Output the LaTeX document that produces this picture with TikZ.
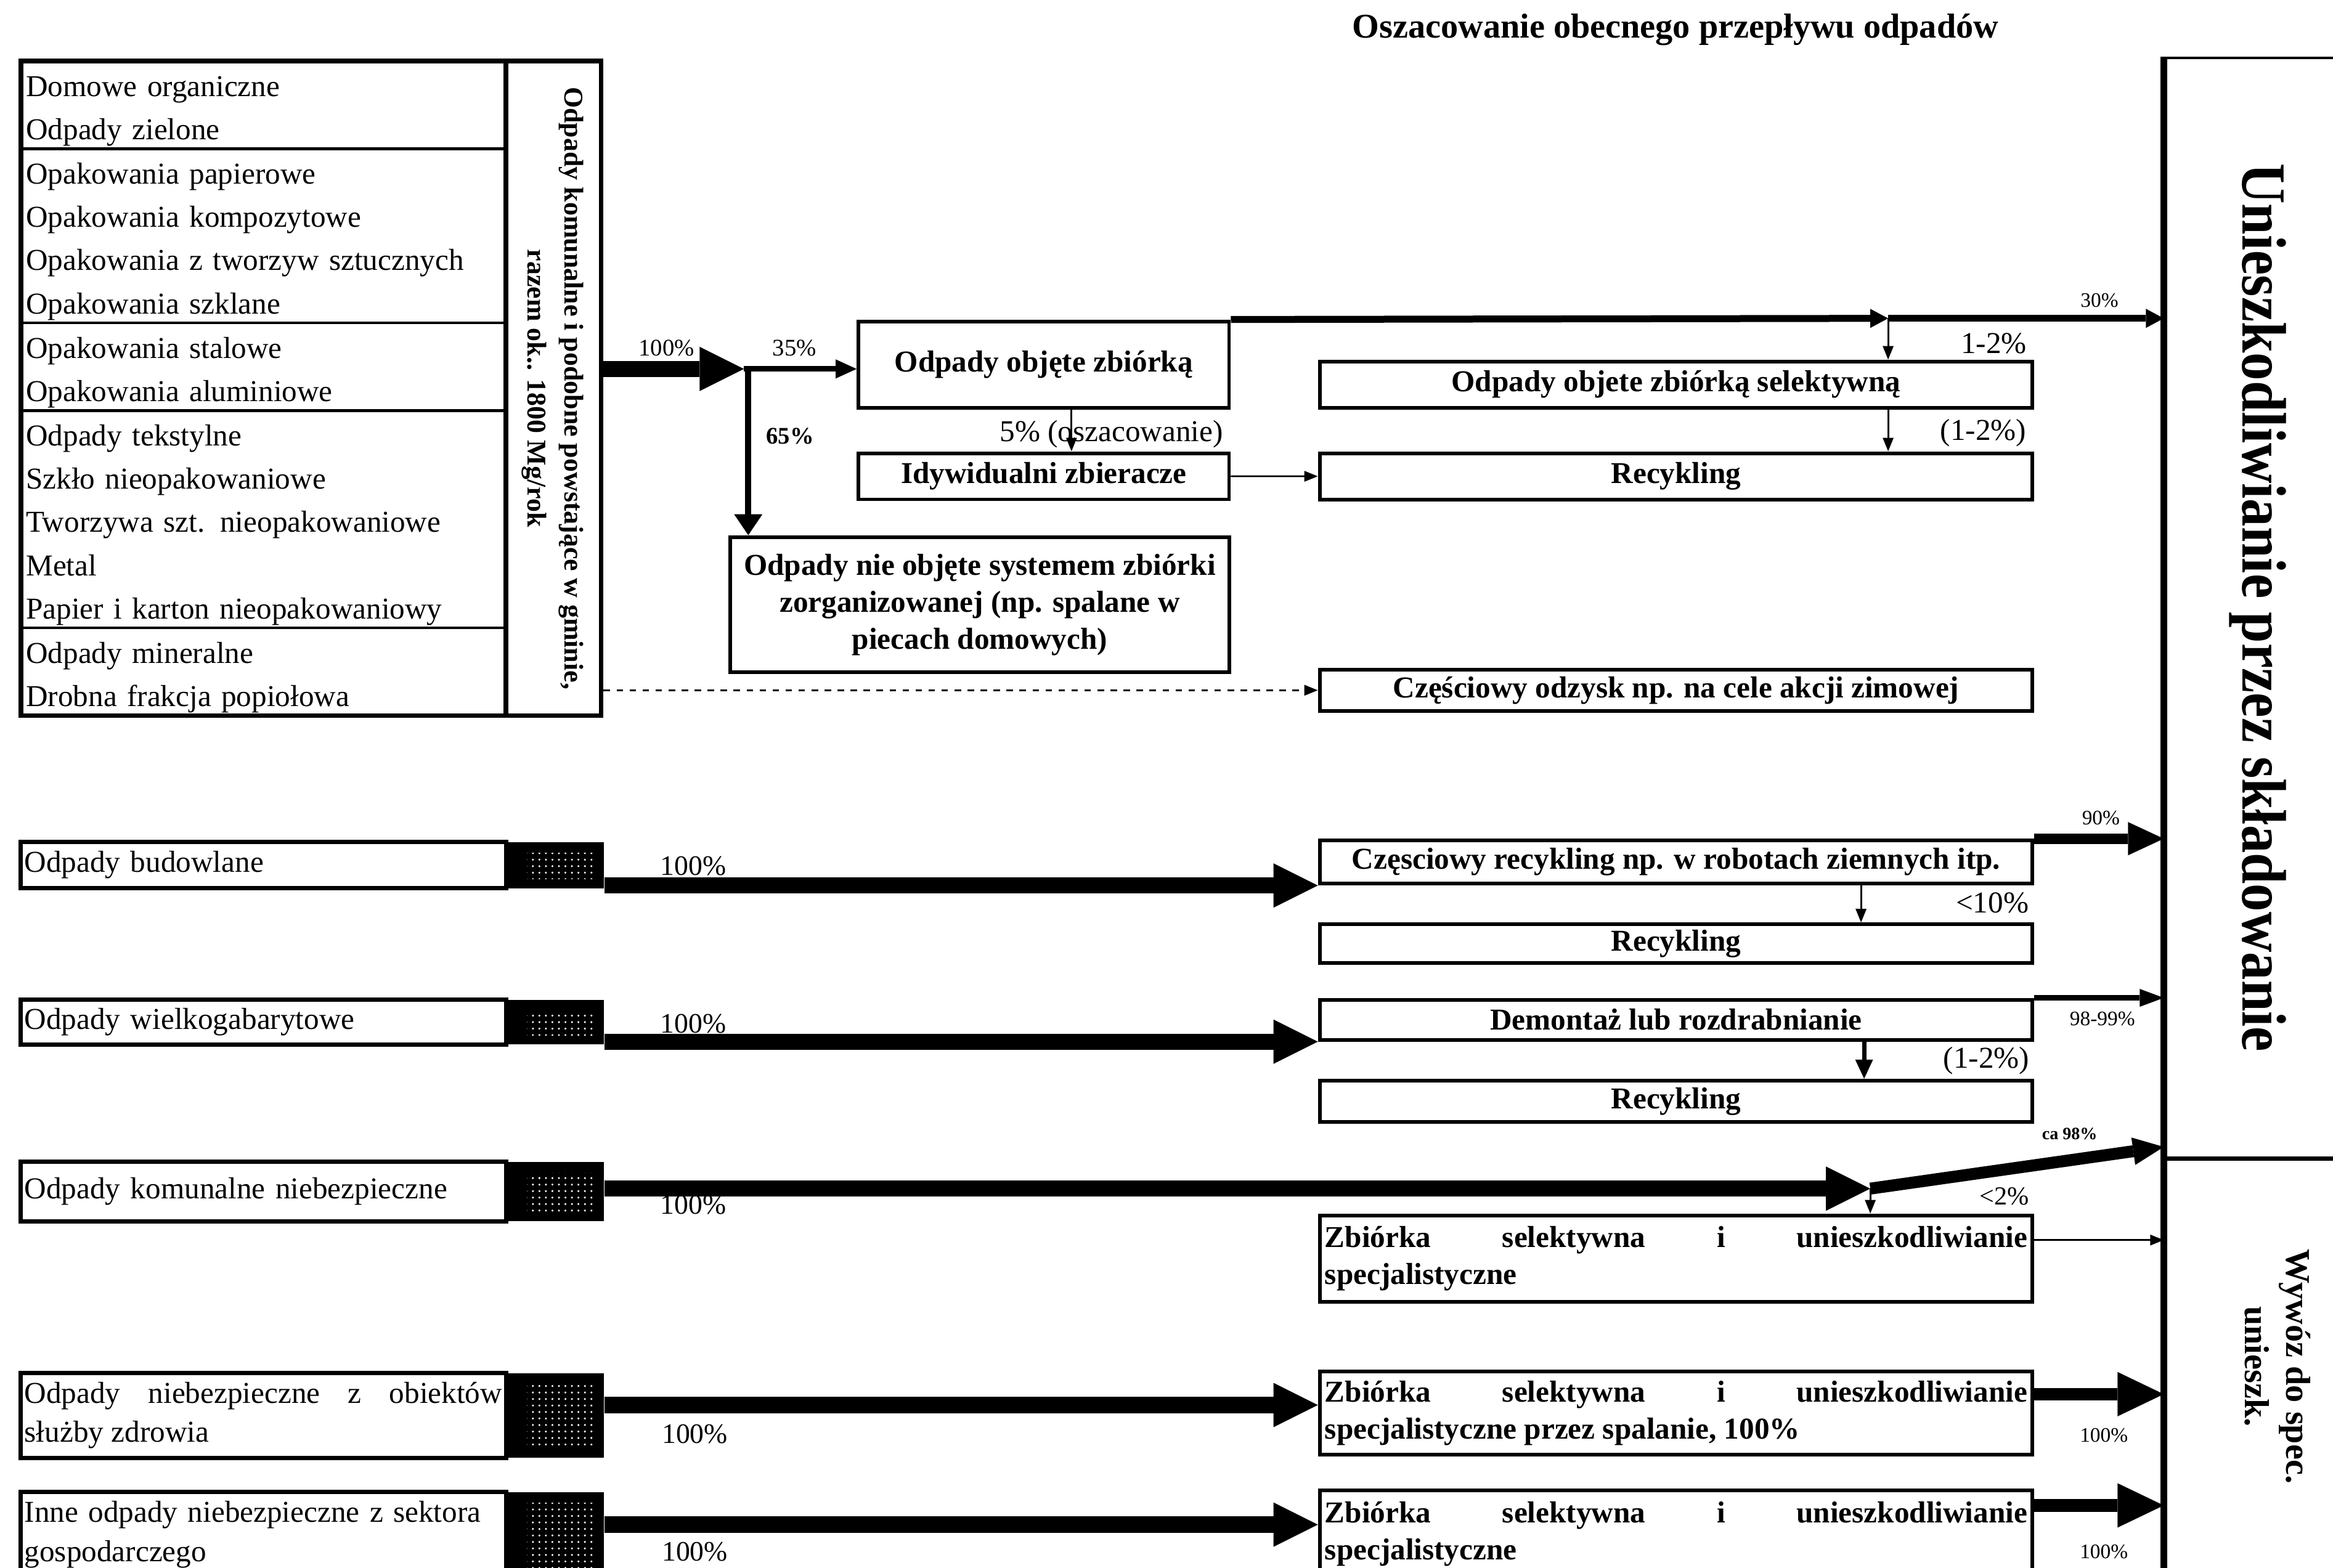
\documentclass[tikz,border=0pt]{standalone}
\usepackage{fontspec}
\setmainfont{Liberation Serif}
\usepackage{graphicx}
\usepackage{tikz}
\usetikzlibrary{positioning, arrows.meta, patterns}

\tikzset{
  cell/.style={draw, line width=1.2pt, inner sep=0pt, minimum width=7.871cm,
    text width=7.7cm, align=left, font=\fontsize{14}{20}\selectfont,
    execute at begin node={\rule{0pt}{15pt}}},
  munframe/.style={draw, line width=2.2pt, inner sep=0pt},
  sumbox/.style={draw, line width=2.2pt, inner sep=0pt, minimum width=1.545cm,
    minimum height=10.624cm, font=\fontsize{12.5}{17}\selectfont\bfseries},
  box/.style={draw, line width=1.7pt, inner xsep=2pt, inner ysep=0pt, align=center,
    font=\fontsize{14}{17}\selectfont\bfseries},
  wide/.style={box, minimum width=11.565cm},
  jbox/.style={wide, text width=11.4cm, align=justify},
  srcbox/.style={draw, line width=2pt, inner sep=0pt, minimum width=7.871cm,
    text width=7.75cm, align=left, font=\fontsize{14}{18}\selectfont},
  grain/.style={fill=black, inner sep=0pt, minimum width=1.545cm,
    path picture={\fill[pattern=dots, pattern color=white]
      ([xshift=0.3cm, yshift=-0.18cm]path picture bounding box.north west) rectangle
      ([xshift=-0.15cm, yshift=0.15cm]path picture bounding box.south east);}},
  endbox/.style={draw, line width=1pt, inner sep=0pt},
  pct/.style={inner sep=0pt, font=\fontsize{13}{15}\selectfont},
  pcm/.style={inner sep=0pt, font=\fontsize{11}{13}\selectfont},
  pcs/.style={inner sep=0pt, font=\fontsize{9.5}{11}\selectfont},
  bigflow/.style={line width=7.5pt, -{Triangle[length=0.72cm, width=0.72cm, line width=0pt]}},
  sideflow/.style={line width=5.8pt, -{Triangle[length=0.75cm, width=0.72cm, line width=0pt]}},
  landflow/.style={line width=4.8pt, -{Triangle[length=0.58cm, width=0.54cm, line width=0pt]}},
  slantflow/.style={line width=5.5pt, -{Triangle[length=0.5cm, width=0.45cm, line width=0pt]}},
  midflow/.style={line width=2.5pt, -{Triangle[length=0.34cm, width=0.31cm, line width=0pt]}},
  downflow/.style={line width=2.8pt, -{Triangle[length=0.34cm, width=0.46cm, line width=0pt]}},
  topflow/.style={line width=3.2pt, -{Triangle[length=0.29cm, width=0.31cm, line width=0pt]}},
  slimflow/.style={line width=2.7pt, -{Triangle[length=0.39cm, width=0.29cm, line width=0pt]}},
  stubflow/.style={line width=2pt, -{Triangle[length=0.31cm, width=0.29cm, line width=0pt]}},
  thinflow/.style={line width=0.8pt, -{Triangle[length=0.22cm, width=0.17cm]}}
}

\begin{document}
\begin{tikzpicture}[x=0.024145cm, y=-0.024145cm]
            \useasboundingbox (0,0) rectangle (1568,1054);
            \clip (0,0) rectangle (1568,1054);

            \node[inner sep=0pt, font=\fontsize{16}{19}\selectfont\bfseries] (title) at (1126,20) {Oszacowanie obecnego przepływu odpadów};

            \node[cell, minimum height=1.425cm] (c1) at (177,70.5) {Domowe organiczne\\Odpady zielone};
            \node[cell, minimum height=2.825cm] (c2) at (177,158.5) {Opakowania papierowe\\Opakowania kompozytowe\\Opakowania z tworzyw sztucznych\\Opakowania szklane};
            \node[cell, minimum height=1.425cm] (c3) at (177,246.5) {Opakowania stalowe\\Opakowania aluminiowe};
            \node[cell, minimum height=3.525cm] (c4) at (177,349) {Odpady tekstylne\\Szkło nieopakowaniowe\\Tworzywa szt. nieopakowaniowe\\Metal\\Papier i karton nieopakowaniowy};
            \node[cell, minimum height=1.425cm] (c5) at (177,451.5) {Odpady mineralne\\Drobna frakcja popiołowa};
            \node[sumbox] (sum) at (372,261) {\rotatebox{-90}{\begin{tabular}{@{}c@{}}Odpady komunalne i podobne powstające w gminie,\\razem ok.. 1800 Mg/rok\end{tabular}}};
            \node[munframe, minimum width=9.417cm, minimum height=10.624cm] (mun) at (209,261) {};

            \node[box, minimum width=6.012cm, minimum height=1.4cm] (zb) at (701.5,245) {Odpady objęte zbiórką};
            \node[box, minimum width=6.012cm, minimum height=0.749cm, below=0.68cm of zb] (idyw) {Idywidualni zbieracze};
            \node[box, minimum width=8.089cm, minimum height=2.197cm] (nieob) at (658.5,406.5) {Odpady nie objęte systemem zbiórki\\zorganizowanej (np. spalane w\\piecach domowych)};
            \node[wide, minimum height=0.749cm] (sel) at (1126.5,258.5) {Odpady objete zbiórką selektywną};
            \node[wide, minimum height=0.749cm, below=0.68cm of sel] (rec1) {Recykling};
            \node[wide, minimum height=0.676cm] (zim) at (1126.5,464) {Częściowy odzysk np. na cele akcji zimowej};

            \node[srcbox, minimum height=0.749cm] (r2) at (177,581.5) {Odpady budowlane};
            \node[grain, minimum height=0.749cm, right=0pt of r2] (g2) {};
            \node[srcbox, minimum height=0.724cm] (r3) at (177,687) {Odpady wielkogabarytowe};
            \node[grain, minimum height=0.724cm, right=0pt of r3] (g3) {};
            \node[srcbox, minimum height=0.966cm] (r4) at (177,801) {Odpady komunalne niebezpieczne};
            \node[grain, minimum height=0.966cm, right=0pt of r4] (g4) {};
            \node[srcbox, minimum height=1.376cm, align=justify] (r5) at (177,951.5) {Odpady niebezpieczne z obiektów\linebreak służby zdrowia};
            \node[grain, minimum height=1.376cm, right=0pt of r5] (g5) {};
            \node[srcbox, minimum height=1.376cm] (r6) at (177,1031.5) {Inne odpady niebezpieczne z sektora\\gospodarczego};
            \node[grain, minimum height=1.376cm, right=0pt of r6] (g6) {};

            \node[wide, minimum height=0.7cm] (czrec) at (1126.5,579.5) {Częsciowy recykling np. w robotach ziemnych itp.};
            \node[wide, minimum height=0.628cm, below=0.6cm of czrec] (rec2) {Recykling};
            \node[wide, minimum height=0.652cm] (dem) at (1126.5,685.5) {Demontaż lub rozdrabnianie};
            \node[wide, minimum height=0.676cm, below=0.6cm of dem] (rec3) {Recykling};
            \node[jbox, minimum height=1.4cm] (zb4) at (1126.5,846) {Zbiórka selektywna i unieszkodliwianie\linebreak specjalistyczne};
            \node[jbox, minimum height=1.352cm] (zb5) at (1126.5,950) {Zbiórka selektywna i unieszkodliwianie\linebreak specjalistyczne przez spalanie, 100\%};
            \node[jbox, minimum height=1.4cm] (zb6) at (1126.5,1031) {Zbiórka selektywna i unieszkodliwianie\linebreak specjalistyczne};

            \node[endbox, minimum width=3.018cm, minimum height=17.843cm] (land) at (1517.5,408.5) {\rotatebox{-90}{\fontsize{29}{33}\selectfont\bfseries\scalebox{0.89}[1]{Unieszkodliwianie przez składowanie}}};
            \node[endbox, minimum width=3.55cm, minimum height=6.712cm, anchor=north west] (disp) at (land.south west) {\rotatebox{-90}{\fontsize{16}{19}\selectfont\bfseries\begin{tabular}{@{}c@{}}Wywóz do spec.\\unieszk.\end{tabular}}};
            \draw[line width=3pt] (land.north west) -- (disp.south west);

            \node[pcm] (l100) at (448,234) {100\%};
            \node[pcm] (l35) at (534,234) {35\%};
            \node[pcm, font=\fontsize{11}{13}\selectfont\bfseries] (l65) at (531,293) {65\%};
            \node[pct, font=\fontsize{14}{16}\selectfont] (l5) at (747,292) {5\% (oszacowanie)};
            \node[pcs] (l30) at (1411,202) {30\%};
            \node[pct, font=\fontsize{14}{16}\selectfont] (l12a) at (1340,231) {1-2\%};
            \node[pct, font=\fontsize{14}{16}\selectfont] (l12b) at (1333,291) {(1-2\%)};
            \node[pcs] (l90) at (1412,550) {90\%};
            \node[pct, font=\fontsize{14}{16}\selectfont] (l10) at (1339,607) {<10\%};
            \node[pcs] (l98) at (1413,685) {98-99\%};
            \node[pct, font=\fontsize{14}{16}\selectfont] (l12c) at (1335,713) {(1-2\%)};
            \node[pcs, font=\fontsize{8}{10}\selectfont\bfseries] (lca) at (1391,762) {ca 98\%};
            \node[pct, font=\fontsize{12}{14}\selectfont] (l2) at (1347,804) {<2\%};
            \node[pct] (l100b) at (466,582) {100\%};
            \node[pct] (l100c) at (466,688) {100\%};
            \node[pct] (l100d) at (466,810) {100\%};
            \node[pct] (l100e) at (467,964) {100\%};
            \node[pct] (l100f) at (467,1043) {100\%};
            \node[pcs] (l100g) at (1414,965) {100\%};
            \node[pcs] (l100h) at (1414,1043) {100\%};

            \coordinate (split) at (500,248);
            \coordinate (tap1) at (1269,214);
            \coordinate (tap4) at (1257,799);

            \draw[bigflow] (mun.east |- split) -- (split);
            \draw[midflow] (split) -- (zb.west |- split);
            \draw[downflow] ([xshift=0.07cm]split) -- ([xshift=0.07cm]split |- nieob.north);
            \draw[thinflow] ([xshift=0.45cm]zb.south) -- ([xshift=0.45cm]idyw.north);
            \draw[thinflow] (idyw) -- (rec1);
            \draw[topflow] (zb.north east) -- (tap1);
            \draw[topflow] (tap1) -- (tap1 -| land.west);
            \draw[thinflow] (tap1) -- (tap1 |- sel.north);
            \draw[thinflow] (sel.south -| tap1) -- (rec1.north -| tap1);
            \draw[thinflow, dashed] (mun.east |- zim) -- (zim);

            \draw[bigflow] (g2.east |- czrec.south west) -- (czrec.south west);
            \draw[landflow] (czrec.north east) -- (czrec.north east -| land.west);
            \draw[thinflow] ([xshift=3.0cm]czrec.south) -- ([xshift=3.0cm]rec2.north);

            \draw[bigflow] (g3.east |- dem.south west) -- (dem.south west);
            \draw[slimflow] (dem.north east) -- (dem.north east -| land.west);
            \draw[stubflow] ([xshift=3.05cm]dem.south) -- ([xshift=3.05cm]rec3.north);

            \draw[bigflow] (g4.east |- tap4) -- (tap4);
            \draw[slantflow] (tap4) -- ([yshift=0.19cm]land.south west);
            \draw[thinflow] (tap4) -- (tap4 |- zb4.north);
            \draw[thinflow] ([yshift=0.3cm]zb4.east) -- ([yshift=0.3cm]zb4.east -| disp.west);

            \draw[bigflow] ([yshift=0.17cm]g5.east) -- ([yshift=0.17cm]g5.east -| zb5.west);
            \draw[sideflow] ([yshift=0.31cm]zb5.east) -- ([yshift=0.31cm]zb5.east -| disp.west);

            \draw[bigflow] ([yshift=0.16cm]g6.east) -- ([yshift=0.16cm]g6.east -| zb6.west);
            \draw[sideflow] ([yshift=0.46cm]zb6.east) -- ([yshift=0.46cm]zb6.east -| disp.west);
        \end{tikzpicture}
\end{document}
